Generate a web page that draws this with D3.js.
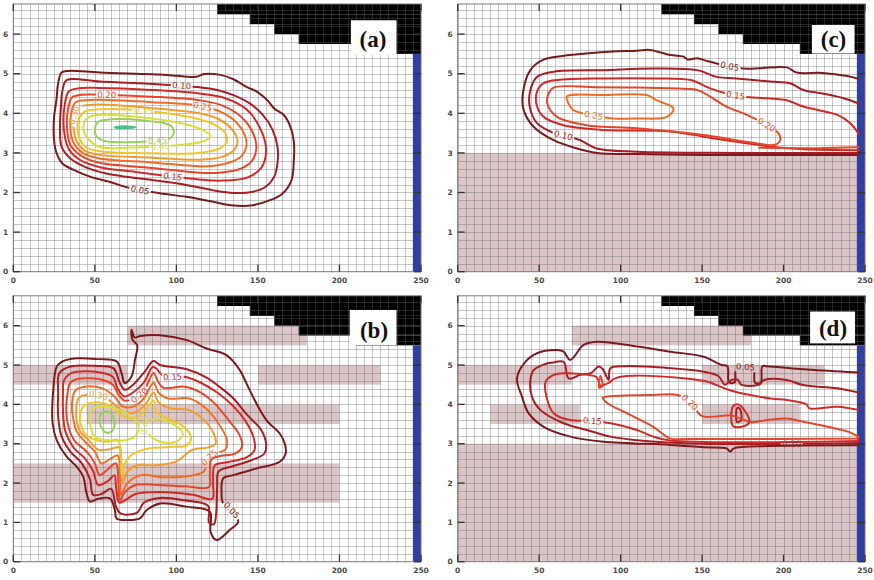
<!DOCTYPE html>
<html><head><meta charset="utf-8">
<script src="https://cdn.jsdelivr.net/npm/d3@7"></script>
<style>body{margin:0;background:#fff}svg{display:block}</style>
</head><body>
<svg id="chart" width="874" height="580"></svg>
<script>
// ---------------- DATA ----------------
const X_DOMAIN = [0, 250];
const Y_DOMAIN = [0, 6.76];
const X_TICKS = [0, 50, 100, 150, 200, 250];
const Y_TICKS = [0, 1, 2, 3, 4, 5, 6];
const GRID_DX = 5, GRID_DY = 0.2;
const LEVELS = [0.05, 0.10, 0.15, 0.20, 0.25, 0.30, 0.35, 0.40, 0.45, 0.50];

// black (impervious) staircase: start x of each row, bottom y of each row
const BLACK_STEP_X = [125, 145, 160, 175, 210];
const BLACK_STEP_Y = [6.5, 6.25, 6.0, 5.75, 5.5];
// blue wall [x0,x1,y0,y1]
const WALL = [245, 250, 0, 5.5];

// label boxes [x0,x1,y0,y1]
const BOX_A = [207, 235, 5.47, 6.35];
const BOX_B = [206.3, 235, 5.51, 6.4];
const BOX_C = [217.4, 243.6, 5.51, 6.23];
const BOX_D = [216.3, 243.9, 5.55, 6.36];

// low-permeability bands [x0,x1,y0,y1]
const BANDS_A = [];
const BANDS_B = [[70,180,5.5,6.0],[0,70,4.5,5.0],[150,225,4.5,5.0],[45,200,3.5,4.0],[0,200,1.5,2.5]];
const BANDS_C = [[0,250,0,3]];
const BANDS_D = [[70,180,5.5,6.0],[0,70,4.5,5.0],[150,225,4.5,5.0],[20,75,3.5,4.0],[150,210,3.5,4.0],[0,250,0,3]];

// ---- panel (a) contours (closed) ----
const a005 = [[29.6,5.03],[34,5.07],[53,5.03],[94,4.97],[112,4.92],[117,4.99],[127,4.97],[135,4.86],[143,4.67],[150,4.53],[156,4.32],[160,4.12],[166,3.95],[170,3.65],[172,3.3],[172,2.8],[170.5,2.3],[165,1.97],[157,1.8],[147,1.68],[135,1.67],[122,1.77],[106,1.89],[90,1.98],[70,2.13],[59,2.27],[47,2.4],[37,2.57],[30,2.74],[26.5,3.0],[25,3.32],[25,3.9],[26.5,4.35],[27.5,4.76]];
const a010 = [[32.7,4.84],[53,4.8],[90,4.73],[114,4.66],[125,4.59],[135,4.46],[145,4.25],[153,3.96],[159,3.58],[162,3.16],[162,2.74],[160,2.4],[155,2.15],[147,2.02],[135,1.99],[122,2.06],[106,2.19],[86,2.31],[69,2.4],[57,2.48],[45,2.63],[35,2.86],[29.6,3.16],[28.6,3.58],[29.2,4.17],[30.2,4.59]];
const a015 = [[31,3.6],[31.5,4.2],[34,4.55],[40,4.63],[53,4.64],[85,4.59],[114,4.5],[130,4.38],[143,4.1],[151,3.65],[155,3.1],[152,2.62],[143,2.37],[128,2.3],[114,2.33],[98,2.4],[75,2.52],[53,2.64],[41,2.82],[34,3.1]];
const a020 = [[33,3.6],[33.5,4.1],[36,4.4],[42,4.47],[53,4.47],[85,4.42],[114,4.33],[128,4.2],[140,3.9],[147,3.5],[149,3.1],[146,2.78],[138,2.58],[126,2.5],[114,2.5],[85,2.62],[53,2.75],[42,2.92],[35,3.2]];
const a025 = [[35,3.6],[35.5,4.0],[38,4.27],[44,4.33],[53,4.34],[85,4.28],[114,4.19],[127,4.04],[137,3.76],[142,3.45],[143,3.2],[140,2.92],[132,2.75],[122,2.67],[114,2.66],[85,2.76],[53,2.86],[43,2.99],[37,3.25]];
const a030 = [[37,3.6],[37.5,3.95],[40,4.15],[46,4.21],[53,4.22],[85,4.13],[114,4.0],[126,3.85],[134,3.6],[137.5,3.3],[135,3.06],[128,2.9],[114,2.83],[85,2.88],[53,2.95],[44,3.05],[39,3.28]];
const a035 = [[39.5,3.6],[40.5,3.9],[44,4.05],[53,4.1],[82,4.06],[114,3.85],[124,3.7],[130,3.5],[131,3.3],[127,3.12],[114,3.0],[85,2.99],[53,3.04],[45,3.13],[41,3.32]];
const a040 = [[43,3.6],[44,3.82],[48,3.93],[60,3.96],[85,3.87],[105,3.73],[116,3.58],[121,3.42],[117,3.3],[105,3.21],[90,3.16],[70,3.13],[53,3.15],[46,3.35]];
const a045 = [[50,3.58],[52,3.78],[60,3.85],[80,3.82],[95,3.72],[98,3.62],[98,3.45],[95,3.35],[85,3.3],[70,3.27],[56,3.3],[51,3.42]];
const a050 = [[62,3.64],[68,3.67],[75,3.645],[68,3.62]];
const LABELS_A = [[0.05,77.6,2.06],[0.10,103,4.69],[0.15,98,2.4],[0.20,57,4.47],[0.25,116.4,4.18],[0.30,37.4,3.95],[0.35,80,4.07],[0.40,90,3.16],[0.45,88,3.31]];

// ---- panel (c) contours ----
const c005 = [[246,4.87],[239,4.94],[224,5.02],[208,5.03],[202,5.16],[186,5.14],[175.5,5.13],[159,5.26],[153,5.32],[147,5.39],[141,5.36],[138.7,5.43],[130.5,5.47],[118,5.6],[110,5.58],[90,5.55],[69,5.47],[53,5.36],[44.6,5.09],[40,4.5],[40.5,4.08],[46.6,3.66],[58.9,3.32],[73.2,3.11],[85.5,3.0],[110,2.97],[151,2.95],[192,2.95],[246,2.95]];
const c010 = [[246,4.25],[237,4.38],[224,4.5],[212,4.59],[204,4.76],[192,4.8],[171,4.88],[159,4.92],[147,5.09],[120,5.13],[90,5.09],[59,5.05],[48.7,4.92],[44.6,4.59],[44.2,4.17],[48.7,3.75],[58,3.52],[65,3.44],[75.3,3.32],[85.5,3.11],[110,3.03],[171,3.0],[246,3.0]];
const c015 = [[246,3.49],[241,3.75],[233,3.96],[212,4.17],[202,4.33],[190,4.38],[175.5,4.42],[165,4.5],[155,4.63],[143,4.84],[120,4.88],[90,4.88],[61,4.84],[52.8,4.76],[48.7,4.55],[48.7,4.17],[52.8,3.91],[65,3.7],[90,3.58],[130.5,3.54],[151,3.41],[171,3.28],[192,3.16],[212,3.09],[246,3.07]];
const c020 = [[58.9,4.65],[85,4.66],[110,4.65],[130,4.63],[147,4.59],[155,4.42],[165,4.17],[177.5,3.96],[190,3.7],[197,3.49],[198,3.32],[194,3.2],[184,3.24],[171,3.32],[151,3.45],[110,3.62],[79,3.7],[61,3.91],[55,4.25],[55.8,4.5]];
const c020b = [[185,3.13],[220,3.12],[246,3.14]];
const c025 = [[67,4.42],[90,4.46],[116,4.46],[122,4.33],[132.5,4.12],[128.4,3.91],[110,3.87],[95,3.87],[83,3.95],[71,4.08],[68,4.25]];
const LABELS_C = [[0.05,167.3,5.3],[0.10,65,3.45],[0.15,170.3,4.47],[0.20,189.8,3.7],[0.25,83.4,3.93]];

// ---- panel (b) contours (closed) ----
const b005 = [[29.6,5.08],[38.8,5.17],[52,5.15],[63.4,5.09],[66.4,4.79],[68.4,4.54],[72.5,4.71],[74.6,5.13],[76,5.5],[73,5.65],[72.5,5.9],[74.5,5.7],[78,5.74],[90,5.76],[106,5.64],[118.5,5.42],[130.7,5.25],[138.9,4.87],[143,4.53],[149,4.03],[155.2,3.6],[163.4,3.26],[166.5,3.0],[167,2.75],[163.4,2.54],[149,2.37],[134.8,2.2],[128.7,2.12],[127.7,1.74],[128.5,1.5],[133,1.35],[137.9,1.02],[132.8,0.81],[124.6,0.55],[121,0.75],[120.5,1.27],[106,1.4],[90,1.48],[81.7,1.31],[77.6,1.1],[69.4,1.06],[63.3,1.1],[62.3,1.31],[59.2,1.61],[52,1.6],[47,1.53],[44.9,1.74],[42.9,2.16],[38.8,2.42],[32.7,2.67],[26.6,3.09],[24.1,3.52],[24.5,4.36],[26.6,4.96]];
const b010 = [[28.2,4.79],[34.7,4.96],[50,4.98],[61.3,4.92],[65.4,4.54],[68.4,4.37],[73.5,4.5],[80,4.8],[86,5.1],[90,5.0],[106,4.9],[118.5,4.68],[127,4.43],[135,4.15],[143,3.75],[152,3.35],[155,3.0],[154,2.75],[146,2.58],[134,2.42],[126,2.3],[125,1.9],[124.5,1.3],[123,0.95],[120,1.0],[119.5,1.42],[105,1.56],[90,1.62],[80,1.5],[76,1.25],[66,1.22],[63,1.4],[60,1.85],[54,1.72],[49,1.7],[47,2.1],[42,2.5],[35,2.8],[29.5,3.2],[27.5,3.7],[27.5,4.3]];
const b015 = [[31,4.6],[36,4.8],[55,4.8],[61,4.7],[64,4.4],[68,4.2],[74,4.32],[80,4.55],[85.5,4.95],[88,4.9],[92,4.72],[105,4.7],[115,4.55],[125,4.3],[135,3.95],[142,3.6],[147,3.2],[148,2.85],[143,2.65],[130,2.52],[123.5,2.45],[122.5,2.0],[122,1.6],[110,1.7],[90,1.77],[75,1.72],[68,1.55],[65,1.5],[63,1.9],[62,2.2],[58,2.05],[52,1.95],[49,2.3],[44,2.62],[37,2.9],[32,3.3],[30.5,3.8],[30.5,4.3]];
const b020 = [[33,4.2],[35,4.55],[40,4.65],[55,4.62],[61,4.5],[64.5,4.25],[68,4.1],[74,4.15],[80,4.35],[86,4.8],[88.5,4.6],[92,4.42],[105,4.45],[115,4.3],[124,4.0],[132,3.6],[139,3.2],[140,2.9],[136,2.75],[126,2.68],[121.5,2.6],[120.5,2.2],[120,1.9],[105,1.92],[88,1.95],[75,1.95],[68,1.75],[65.5,1.55],[64.5,2.0],[63,2.5],[58,2.35],[53,2.2],[50,2.5],[45,2.8],[38,3.05],[34,3.4],[32.5,3.8]];
const b025 = [[36,4.0],[38,4.35],[44,4.45],[55,4.4],[62,4.2],[67,3.95],[74,3.95],[80,4.15],[86,4.55],[89,4.3],[95,4.15],[108,4.15],[118,3.9],[126,3.5],[131,3.1],[130,2.85],[124,2.75],[119,2.6],[117,2.3],[108,2.18],[92,2.15],[78,2.2],[70,2.0],[66,1.7],[65.5,2.2],[64,2.7],[59,2.6],[54,2.5],[50,2.8],[44,3.05],[39,3.3],[36.5,3.7]];
const b030 = [[38.5,3.8],[40,4.15],[46,4.25],[55,4.2],[62,4.0],[68,3.8],[75,3.8],[81,4.0],[86,4.3],[89,4.05],[96,3.9],[108,3.85],[117,3.6],[123,3.25],[124,3.0],[119,2.9],[110,2.85],[100,2.55],[88,2.45],[76,2.45],[70,2.3],[67,2.0],[66,2.4],[65,2.9],[58,2.85],[52,2.85],[46,3.1],[41,3.3],[39,3.55]];
const b035 = [[41,3.6],[43,3.95],[50,4.05],[60,3.95],[67,3.7],[75,3.65],[81,3.85],[86,4.1],[88,3.8],[96,3.62],[104,3.45],[109,3.15],[106,2.95],[98,2.92],[88,2.9],[80,2.85],[72,2.7],[68,2.45],[66.5,2.2],[66,2.7],[64,3.1],[58,3.05],[50,3.1],[44,3.25]];
const b040 = [[47,3.55],[48,3.85],[55,3.95],[65,3.85],[73,3.68],[77,3.45],[75,3.2],[70,3.1],[60,3.08],[50,3.18]];
const b040b = [[81,3.5],[88,3.62],[98,3.5],[104,3.25],[100,3.05],[90,3.05],[83,3.25]];
const b045 = [[53,3.55],[54,3.78],[58,3.82],[61,3.7],[62,3.45],[60,3.3],[56,3.3]];
const LABELS_B = [[0.05,134,1.3],[0.15,98,4.68],[0.20,77.6,4.22],[0.25,120.5,2.65],[0.30,52,4.24],[0.40,80,3.45]];

// ---- panel (d) contours ----
const d005 = [[246,4.81],[237,4.83],[210,4.9],[190,4.97],[187,4.97],[186,4.55],[182.5,4.55],[181.5,4.93],[177,4.95],[171,4.95],[170,4.56],[166.5,4.56],[165.5,4.97],[162,5.0],[151,5.21],[130.5,5.34],[110,5.47],[85.5,5.59],[77.3,5.51],[69.1,5.13],[65,5.34],[61,5.38],[48.7,5.3],[41.5,5.08],[36.4,4.66],[39.5,4.19],[43.6,3.77],[52.8,3.43],[69.1,3.18],[89.6,3.05],[130.5,2.97],[151,2.91],[165,2.88],[167.3,2.8],[169.5,2.88],[192,2.94],[246,2.96]];
const d010 = [[246,4.3],[233,4.41],[212,4.49],[202,4.62],[188,4.62],[185,4.5],[174,4.5],[172,4.62],[168,4.62],[164,4.5],[160,4.72],[151,4.83],[130.5,4.92],[102,4.97],[93.7,4.92],[92.6,4.62],[89,4.9],[86.5,4.96],[82,4.8],[75.3,4.75],[68.1,4.66],[65,5.08],[58,5.06],[54.8,5.04],[46.6,4.87],[44.6,4.62],[45.6,4.19],[50.7,3.86],[65,3.52],[79.3,3.35],[93.7,3.18],[110,3.09],[151,3.0],[246,3.02]];
const d015 = [[246,3.86],[233,3.94],[216,3.9],[214,4.0],[202,4.11],[192,4.15],[167,4.36],[153,4.58],[140,4.66],[104,4.72],[96,4.65],[93,4.55],[90,4.5],[88,4.45],[85,4.7],[80,4.75],[66,4.79],[59,4.75],[54,4.58],[55,4.11],[59,3.77],[69,3.6],[82,3.58],[94,3.52],[110,3.35],[120,3.18],[130.5,3.08],[246,3.07]];
const d020 = [[246,3.13],[200,3.12],[140,3.12],[130.5,3.13],[120,3.43],[104,3.77],[92,4.03],[89,4.17],[100,4.22],[120,4.24],[135,4.24],[142.7,4.05],[150,3.7],[160,3.7],[168,3.72],[180,3.55],[190,3.6],[202,3.64],[212,3.56],[225,3.45],[240,3.3],[246,3.18]];
const d_loop1 = [[86.8,4.42],[87.6,4.72],[88.8,4.5]];
const d_loop2 = [[169,3.45],[169,3.95],[172,4.0],[176,3.85],[179,3.55],[176,3.45]];
const d_loop3 = [[171.5,3.55],[171.5,3.9],[173,3.9],[174,3.6]];
const LABELS_D = [[0.05,176.5,4.97],[0.10,205,3.01],[0.15,82.4,3.6],[0.20,142.7,4.08]];

// ---------------- STYLE / LAYOUT ----------------
const LEVEL_COLORS = ["#7b1a1d","#a61e24","#d02a28","#e6472b","#f06d27","#f59b2c","#efc62b","#d8df3d","#96d15a","#4abf8e"];
const PINK = "#dcc5c6", BLUE = "#2f3fa6", GRID = "rgba(100,100,100,0.36)";

const PANELS = [
  {id:"a", l:13.3, r:421, t:4, b:271.7, bands:BANDS_A, box:BOX_A, text:"(a)", tx:373, ty:47,
   lines:[[0.05,a005,1],[0.10,a010,1],[0.15,a015,1],[0.20,a020,1],[0.25,a025,1],[0.30,a030,1],[0.35,a035,1],[0.40,a040,1],[0.45,a045,1],[0.50,a050,1]], labels:LABELS_A},
  {id:"c", l:457.7, r:865, t:4, b:271.7, bands:BANDS_C, box:BOX_C, text:"(c)", tx:833.5, ty:47,
   lines:[[0.05,c005,0],[0.10,c010,0],[0.15,c015,0],[0.20,c020,1],[0.20,c020b,0],[0.25,c025,1]], labels:LABELS_C},
  {id:"b", l:13.3, r:421, t:295.8, b:561.7, bands:BANDS_B, box:BOX_B, text:"(b)", tx:374, ty:338,
   lines:[[0.05,b005,1],[0.10,b010,1],[0.15,b015,1],[0.20,b020,1],[0.25,b025,1],[0.30,b030,1],[0.35,b035,1],[0.40,b040,1],[0.40,b040b,1],[0.45,b045,1]], labels:LABELS_B},
  {id:"d", l:457.7, r:865, t:295.8, b:561.7, bands:BANDS_D, box:BOX_D, text:"(d)", tx:833, ty:336,
   lines:[[0.05,d005,0],[0.10,d010,0],[0.15,d015,0],[0.20,d020,0],[0.20,d_loop1,1],[0.15,d_loop2,1],[0.10,d_loop3,1]], labels:LABELS_D}
];

const svg = d3.select("#chart");
const defs = svg.append("defs");
const colorOf = lv => LEVEL_COLORS[LEVELS.findIndex(v => Math.abs(v - lv) < 1e-6)];
const fmt = d3.format(".2f");

function drawPanel(P) {
  const x = d3.scaleLinear().domain(X_DOMAIN).range([P.l, P.r]);
  const y = d3.scaleLinear().domain(Y_DOMAIN).range([P.b, P.t]);
  const g = svg.append("g");
  const clipId = "clip_" + P.id;
  defs.append("clipPath").attr("id", clipId).append("rect")
    .attr("x", P.l).attr("y", P.t).attr("width", P.r - P.l).attr("height", P.b - P.t);
  const plot = g.append("g").attr("clip-path", `url(#${clipId})`);
  plot.append("rect").attr("x", P.l).attr("y", P.t).attr("width", P.r - P.l).attr("height", P.b - P.t).attr("fill", "#fff");

  const rectOf = sel => sel.attr("x", d => x(d[0])).attr("width", d => x(d[1]) - x(d[0]))
    .attr("y", d => y(d[3])).attr("height", d => y(d[2]) - y(d[3]));

  rectOf(plot.append("g").selectAll("rect").data(P.bands).join("rect")).attr("fill", PINK);

  const steps = BLACK_STEP_X.map((x0, i) => [x0, X_DOMAIN[1], BLACK_STEP_Y[i], i === 0 ? Y_DOMAIN[1] : BLACK_STEP_Y[i - 1]]);
  rectOf(plot.append("g").selectAll("rect").data(steps).join("rect")).attr("fill", "#000");

  // grid
  const gx = d3.range(0, X_DOMAIN[1] / GRID_DX + 1).map(i => i * GRID_DX);
  const gy = d3.range(0, Math.floor(Y_DOMAIN[1] / GRID_DY) + 1).map(i => +(i * GRID_DY).toFixed(2));
  const grid = plot.append("g").attr("stroke", GRID).attr("stroke-width", 1).attr("shape-rendering", "crispEdges");
  grid.selectAll("line.v").data(gx).join("line").attr("x1", d => Math.round(x(d)) + 0.5).attr("x2", d => Math.round(x(d)) + 0.5).attr("y1", P.t).attr("y2", P.b);
  grid.selectAll("line.h").data(gy).join("line").attr("y1", d => Math.round(y(d)) + 0.5).attr("y2", d => Math.round(y(d)) + 0.5).attr("x1", P.l).attr("x2", P.r);

  rectOf(plot.append("rect").datum(WALL)).attr("fill", BLUE);
  rectOf(plot.append("rect").datum(P.box)).attr("fill", "#fff");

  // contours grouped by level
  const lineGen = d3.line().x(d => x(d[0])).y(d => y(d[1]));
  const levelsUsed = [...new Set(P.lines.map(d => d[0]))];
  const cont = plot.append("g").attr("fill", "none").attr("stroke-width", 2).attr("stroke-linejoin", "round").attr("stroke-linecap", "round");
  const labelLayer = plot.append("g");
  levelsUsed.forEach((lv, li) => {
    const lg = cont.append("g").attr("stroke", colorOf(lv));
    const paths = P.lines.filter(d => d[0] === lv).map(d =>
      lg.append("path").attr("d", lineGen.curve(d[2] ? d3.curveCatmullRomClosed.alpha(0.5) : d3.curveCatmullRom.alpha(0.5))(d[1])).node());
    const labs = P.labels.filter(d => Math.abs(d[0] - lv) < 1e-6);
    if (!labs.length) return;
    const maskId = `mask_${P.id}_${li}`;
    const mask = defs.append("mask").attr("id", maskId).attr("maskUnits", "userSpaceOnUse")
      .attr("x", 0).attr("y", 0).attr("width", 874).attr("height", 580);
    mask.append("rect").attr("x", 0).attr("y", 0).attr("width", 874).attr("height", 580).attr("fill", "#fff");
    labs.forEach(lb => {
      const tx = x(lb[1]), ty = y(lb[2]);
      let best = null;
      paths.forEach(node => {
        const L = node.getTotalLength();
        for (let s = 0; s <= L; s += 1) {
          const p = node.getPointAtLength(s);
          const dd = (p.x - tx) ** 2 + (p.y - ty) ** 2;
          if (!best || dd < best.dd) best = {node, s, dd, L};
        }
      });
      const p = best.node.getPointAtLength(best.s);
      const p1 = best.node.getPointAtLength(Math.max(0, best.s - 5));
      const p2 = best.node.getPointAtLength(Math.min(best.L, best.s + 5));
      let ang = Math.atan2(p2.y - p1.y, p2.x - p1.x) * 180 / Math.PI;
      if (ang > 90) ang -= 180;
      if (ang < -90) ang += 180;
      const t = labelLayer.append("text").text(fmt(lv))
        .attr("transform", `translate(${p.x},${p.y}) rotate(${ang})`)
        .attr("text-anchor", "middle").attr("dominant-baseline", "central")
        .attr("font-family", "DejaVu Sans, sans-serif").attr("font-size", 8.5)
        .attr("fill", colorOf(lv));
      const w = t.node().getComputedTextLength() + 3;
      mask.append("rect").attr("x", -w / 2).attr("y", -5).attr("width", w).attr("height", 10)
        .attr("transform", `translate(${p.x},${p.y}) rotate(${ang})`).attr("fill", "#000");
    });
    lg.attr("mask", `url(#${maskId})`);
  });

  // panel label
  g.append("text").text(P.text).attr("x", P.tx).attr("y", P.ty).attr("text-anchor", "middle")
    .attr("font-family", "Liberation Serif, serif").attr("font-weight", "bold").attr("font-size", 23).attr("fill", "#111");

  // frame
  g.append("rect").attr("x", P.l).attr("y", P.t).attr("width", P.r - P.l).attr("height", P.b - P.t)
    .attr("fill", "none").attr("stroke", "#777").attr("stroke-width", 1);

  // ticks (inward, mirrored)
  const tk = g.append("g").attr("stroke", "#333").attr("stroke-width", 1.3);
  const TL = 7;
  tk.selectAll("line.xb").data(X_TICKS).join("line").attr("x1", d => x(d)).attr("x2", d => x(d)).attr("y1", P.b).attr("y2", P.b - TL);
  tk.selectAll("line.xt").data(X_TICKS).join("line").attr("x1", d => x(d)).attr("x2", d => x(d)).attr("y1", P.t).attr("y2", P.t + TL);
  tk.selectAll("line.yl").data(Y_TICKS).join("line").attr("y1", d => y(d)).attr("y2", d => y(d)).attr("x1", P.l).attr("x2", P.l + TL);
  tk.selectAll("line.yr").data(Y_TICKS).join("line").attr("y1", d => y(d)).attr("y2", d => y(d)).attr("x1", P.r).attr("x2", P.r - TL);

  const lab = g.append("g").attr("font-family", "DejaVu Sans, sans-serif").attr("font-weight", "bold").attr("font-size", 7.5).attr("fill", "#4a4a4a");
  lab.selectAll("text.x").data(X_TICKS).join("text").text(d => d).attr("x", d => x(d)).attr("y", P.b + 11).attr("text-anchor", "middle");
  lab.selectAll("text.y").data(Y_TICKS).join("text").text(d => d).attr("x", P.l - 5).attr("y", d => y(d) + 2.7).attr("text-anchor", "end");
}

PANELS.forEach(drawPanel);
</script>
</body></html>
